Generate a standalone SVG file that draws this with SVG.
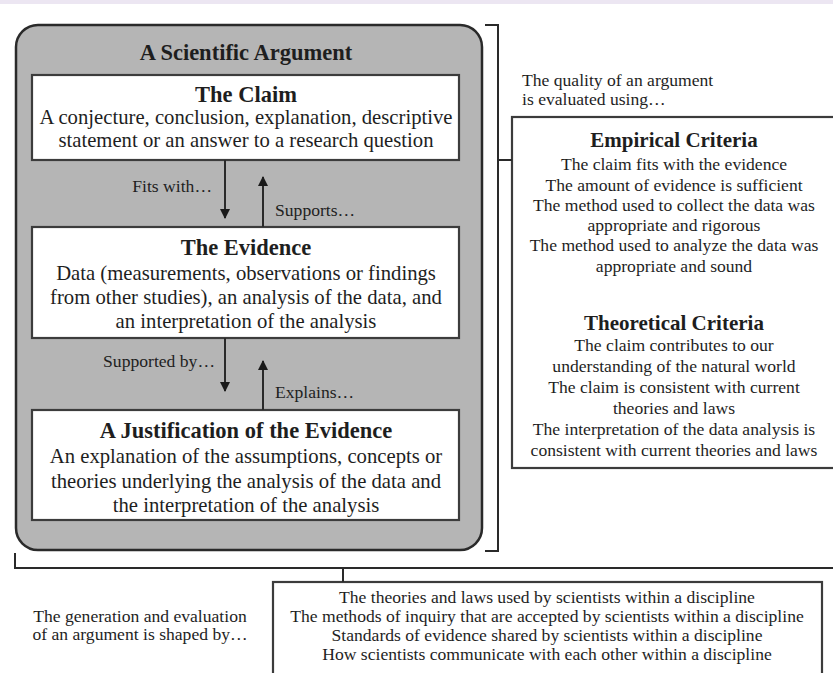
<svg xmlns="http://www.w3.org/2000/svg" width="833" height="673" viewBox="0 0 833 673">
<style>
  text { font-family: "Liberation Serif", "Times New Roman", serif; fill: #1e1e1e; }
  .h { font-weight: bold; font-size: 22.5px; text-anchor: middle; }
  .hr { font-weight: bold; font-size: 21px; text-anchor: middle; }
  .b { font-size: 20.7px; text-anchor: middle; }
  .s { font-size: 17.6px; }
  .sm { font-size: 17.6px; text-anchor: middle; }
  .box { fill: #ffffff; stroke: #3c3c3c; stroke-width: 2.2; }
  .line { fill: none; stroke: #2a2a2a; stroke-width: 2; }
</style>
<defs>
  <marker id="ah" viewBox="0 0 10 10" refX="9" refY="5" markerWidth="10" markerHeight="10" markerUnits="userSpaceOnUse" orient="auto">
    <path d="M0,0 L10,5 L0,10 z" fill="#1a1a1a"/>
  </marker>
</defs>
<rect x="0" y="0" width="833" height="673" fill="#ffffff"/>
<rect x="0" y="0" width="833" height="4" fill="#ece6f2"/>

<g id="argument">
  <rect x="16" y="25" width="466" height="525" rx="22" fill="#b5b5b5" stroke="#2a2a2a" stroke-width="2.5"/>
  <text class="h" x="246" y="60">A Scientific Argument</text>
</g>

<g id="claim">
  <rect class="box" x="32" y="75" width="427" height="85"/>
  <text class="h" x="246" y="102">The Claim</text>
  <text class="b" x="246" y="124">A conjecture, conclusion, explanation, descriptive</text>
  <text class="b" x="246" y="147">statement or an answer to a research question</text>
</g>

<g id="evidence">
  <rect class="box" x="32" y="227" width="427" height="111"/>
  <text class="h" x="246" y="255">The Evidence</text>
  <text class="b" x="246" y="280">Data (measurements, observations or findings</text>
  <text class="b" x="246" y="304">from other studies), an analysis of the data, and</text>
  <text class="b" x="246" y="328">an interpretation of the analysis</text>
</g>

<g id="justification">
  <rect class="box" x="32" y="410" width="427" height="110"/>
  <text class="h" x="246" y="438">A Justification of the Evidence</text>
  <text class="b" x="246" y="463">An explanation of the assumptions, concepts or</text>
  <text class="b" x="246" y="488">theories underlying the analysis of the data and</text>
  <text class="b" x="246" y="512">the interpretation of the analysis</text>
</g>

<g id="quality-label">
  <text class="s" x="522" y="86">The quality of an argument</text>
  <text class="s" x="522" y="105">is evaluated using…</text>
</g>

<g id="criteria">
  <rect class="box" x="512" y="117" width="330" height="351"/>
  <text class="hr" x="674" y="147">Empirical Criteria</text>
  <text class="sm" x="674" y="170">The claim fits with the evidence</text>
  <text class="sm" x="674" y="191">The amount of evidence is sufficient</text>
  <text class="sm" x="674" y="211">The method used to collect the data was</text>
  <text class="sm" x="674" y="231">appropriate and rigorous</text>
  <text class="sm" x="674" y="251">The method used to analyze the data was</text>
  <text class="sm" x="674" y="272">appropriate and sound</text>
  <text class="hr" x="674" y="330">Theoretical Criteria</text>
  <text class="sm" x="674" y="351">The claim contributes to our</text>
  <text class="sm" x="674" y="372">understanding of the natural world</text>
  <text class="sm" x="674" y="393">The claim is consistent with current</text>
  <text class="sm" x="674" y="414">theories and laws</text>
  <text class="sm" x="674" y="435">The interpretation of the data analysis is</text>
  <text class="sm" x="674" y="456">consistent with current theories and laws</text>
</g>

<g id="shaped-label">
  <text class="sm" x="140" y="622">The generation and evaluation</text>
  <text class="sm" x="140" y="640">of an argument is shaped by…</text>
</g>

<g id="discipline">
  <rect class="box" x="273" y="582" width="549" height="100"/>
  <text class="sm" x="547" y="603">The theories and laws used by scientists within a discipline</text>
  <text class="sm" x="547" y="622">The methods of inquiry that are accepted by scientists within a discipline</text>
  <text class="sm" x="547" y="641">Standards of evidence shared by scientists within a discipline</text>
  <text class="sm" x="547" y="660">How scientists communicate with each other within a discipline</text>
</g>

<g id="connectors">
  <line class="line" x1="225" y1="160" x2="225" y2="218" marker-end="url(#ah)"/>
  <line class="line" x1="263" y1="227" x2="263" y2="177" marker-end="url(#ah)"/>
  <line class="line" x1="225" y1="338" x2="225" y2="391" marker-end="url(#ah)"/>
  <line class="line" x1="263" y1="410" x2="263" y2="361" marker-end="url(#ah)"/>
  <path class="line" d="M485,25 H498 V551 H485"/>
  <path class="line" d="M498,160 H512"/>
  <path class="line" d="M15,553 V568 H840"/>
  <path class="line" d="M343,568 V582"/>
  <text class="s" x="212" y="192" text-anchor="end">Fits with…</text>
  <text class="s" x="275" y="216">Supports…</text>
  <text class="s" x="215" y="367" text-anchor="end">Supported by…</text>
  <text class="s" x="275" y="398">Explains…</text>
</g>
</svg>
